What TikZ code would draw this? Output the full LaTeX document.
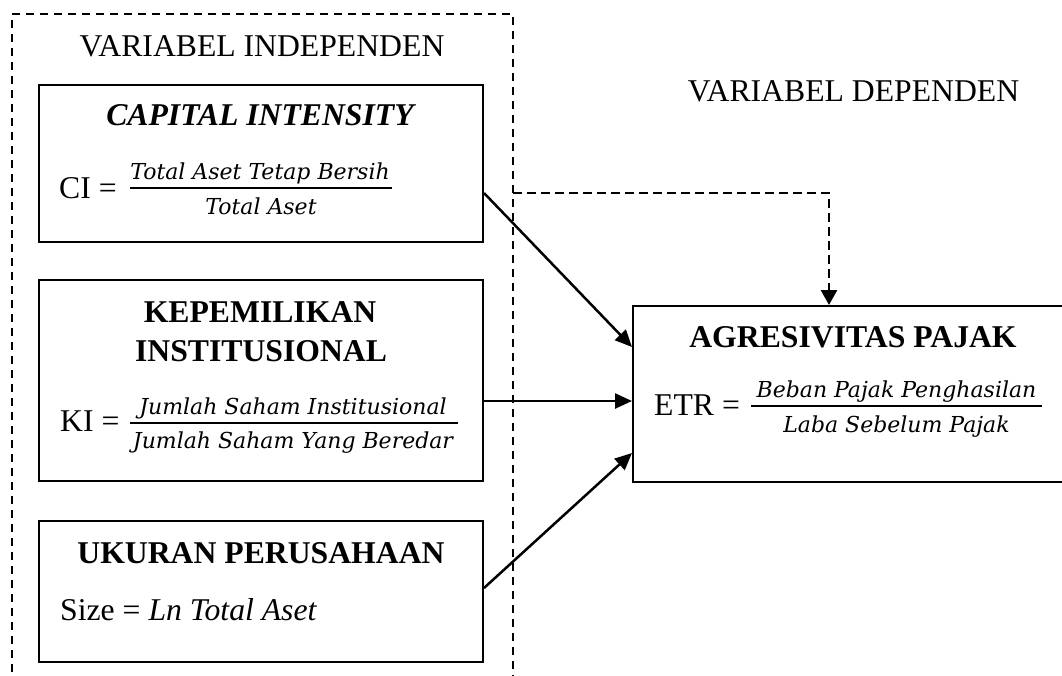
\documentclass[tikz,border=0pt]{standalone}
\usepackage{fontspec}
\setmainfont{Liberation Serif}
\newfontfamily\eqfont{DejaVu Serif}
\usetikzlibrary{arrows.meta}
\begin{document}
\begin{tikzpicture}[x=1pt,y=-1pt,
  varbox/.style={draw, line width=2pt, inner sep=0pt},
  groupbox/.style={draw, line width=2.2pt, dash pattern=on 8pt off 6pt, inner sep=0pt},
  lbl/.style={font=\fontsize{31.7}{38}\selectfont, anchor=base, inner sep=0pt},
  lblw/.style={font=\fontsize{31.7}{38}\selectfont, anchor=base west, inner sep=0pt},
  ttl/.style={font=\fontsize{31.7}{38}\selectfont\bfseries, anchor=base, inner sep=0pt},
  fracpart/.style={font=\fontsize{22}{26}\selectfont\eqfont\itshape, anchor=base, inner sep=0pt},
  fracbar/.style={line width=1.8pt},
  conn/.style={line width=2.5pt, -{Triangle[length=17pt,width=15pt]}},
  dconn/.style={line width=2.6pt, dash pattern=on 9pt off 5pt, -{Triangle[length=15pt,width=16pt]}}
]
\clip (0,0) rectangle (1062,675);
\fill[white] (0,0) rectangle (1062,675);

% group of independent variables
\node[groupbox, minimum width=501pt, minimum height=700pt] (indep) at (262.5,364) {};
\node[lbl] (indeplbl) at (262,56) {VARIABEL INDEPENDEN};
\node[lbl] (deplbl) at (853.5,101) {VARIABEL DEPENDEN};

% Capital intensity
\node[varbox, minimum width=444pt, minimum height=157pt] (ci) at (261,163.5) {};
\node[ttl, font=\fontsize{31.7}{38}\selectfont\bfseries\itshape] (cittl) at (260,125) {CAPITAL INTENSITY};
\node[lblw] (cieq) at (59,198) {CI =};
\node[fracpart] (cinum) at (260,179) {Total Aset Tetap Bersih};
\node[fracpart] (ciden) at (261,214) {Total Aset};
\draw[fracbar] (130,188) -- (392,188);

% Kepemilikan institusional
\node[varbox, minimum width=444pt, minimum height=201pt] (ki) at (261,380.5) {};
\node[ttl] (kittl1) at (260,322.5) {KEPEMILIKAN};
\node[ttl] (kittl2) at (261,361) {INSTITUSIONAL};
\node[lblw] (kieq) at (60,431) {KI =};
\node[fracpart] (kinum) at (293,414) {Jumlah Saham Institusional};
\node[fracpart] (kiden) at (293,448) {Jumlah Saham Yang Beredar};
\draw[fracbar] (130,423) -- (458,423);

% Ukuran perusahaan
\node[varbox, minimum width=444pt, minimum height=141pt] (uk) at (261,591.5) {};
\node[ttl] (ukttl) at (261,563) {UKURAN PERUSAHAAN};
\node[lblw] (ukeq) at (60,620) {Size = \textit{Ln Total Aset}};

% Agresivitas pajak
\node[varbox, minimum width=447pt, minimum height=176pt] (ag) at (856.5,394) {};
\node[ttl] (agttl) at (853,347) {AGRESIVITAS PAJAK};
\node[lblw] (ageq) at (654,415) {ETR =};
\node[fracpart] (agnum) at (896.5,397) {Beban Pajak Penghasilan};
\node[fracpart] (agden) at (896.5,432) {Laba Sebelum Pajak};
\draw[fracbar] (751,406) -- (1042,406);

% connectors
\draw[conn] ([yshift=-29.5pt]ci.east) -- ([yshift=47pt]ag.west);
\draw[conn] ([yshift=-20.5pt]ki.east) -- ([yshift=-7pt]ag.west);
\draw[conn] ([yshift=3.5pt]uk.east) -- ([yshift=-59pt]ag.west);

\coordinate (dstart) at (513,193);
\coordinate (dcol) at (829,193);
\draw[dconn] (dstart) -- (dcol) -- (dcol |- ag.north);
\end{tikzpicture}
\end{document}
